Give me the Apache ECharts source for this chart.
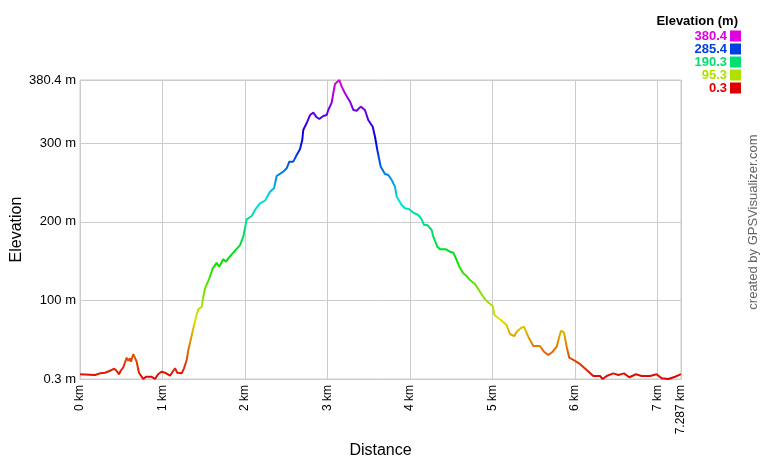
<!DOCTYPE html>
<html>
<head>
<meta charset="utf-8">
<script src="https://cdn.jsdelivr.net/npm/echarts@6/dist/echarts.min.js"></script>
<style>
html,body{margin:0;padding:0;background:#fff;}
#chart{width:760px;height:460px;}
</style>
</head>
<body>
<div id="chart"></div>
<script>
// Distance along track (km)
const distanceKm = [
  0, 0.182, 0.242, 0.303, 0.364, 0.416, 0.445, 0.473, 0.493, 0.525, 0.546, 0.566, 0.586, 0.606, 0.618,
  0.646, 0.667, 0.687, 0.715, 0.748, 0.767, 0.800, 0.869, 0.909, 0.949, 0.991, 1.031, 1.091, 1.152, 1.180,
  1.233, 1.261, 1.294, 1.313, 1.342, 1.374, 1.406, 1.434, 1.476, 1.495, 1.516, 1.568, 1.609, 1.657, 1.689,
  1.737, 1.770, 1.798, 1.859, 1.940, 1.980, 2.021, 2.082, 2.122, 2.182, 2.243, 2.304, 2.352, 2.385, 2.465,
  2.506, 2.538, 2.586, 2.627, 2.667, 2.695, 2.707, 2.756, 2.789, 2.829, 2.870, 2.901, 2.950, 2.991, 3.010,
  3.052, 3.071, 3.092, 3.144, 3.173, 3.213, 3.274, 3.314, 3.355, 3.403, 3.455, 3.495, 3.549, 3.577, 3.605,
  3.646, 3.698, 3.738, 3.779, 3.819, 3.840, 3.900, 3.940, 3.992, 4.041, 4.101, 4.143, 4.171, 4.211, 4.264,
  4.284, 4.332, 4.365, 4.437, 4.486, 4.526, 4.559, 4.599, 4.647, 4.688, 4.728, 4.789, 4.850, 4.910, 4.962,
  5.004, 5.023, 5.092, 5.173, 5.213, 5.266, 5.295, 5.343, 5.383, 5.435, 5.496, 5.577, 5.626, 5.678, 5.731,
  5.780, 5.811, 5.832, 5.868, 5.901, 5.932, 5.981, 6.062, 6.143, 6.224, 6.305, 6.337, 6.386, 6.466, 6.527,
  6.596, 6.660, 6.741, 6.810, 6.911, 6.992, 7.052, 7.134, 7.215, 7.287
];
// Elevation (m)
const elevationM = [
  6.3, 5.4, 7.5, 8.3, 10.8, 13.4, 10.5, 6.3, 10.8, 15.2, 16.8, 27.4, 23.6, 26.6, 22.3,
  32.0, 29.5, 22.3, 8.3, 3.2, 0.3, 3.2, 3.2, 0.3, 6.6, 9.6, 8.3, 4.5, 13.9, 8.3,
  7.5, 13.9, 24.5, 37.2, 50.0, 64.8, 78.7, 88.9, 92.2, 104.9, 115.6, 128.3, 141.0, 148.0, 143.0,
  152.5, 149.4, 153.7, 160.9, 170.6, 181.2, 203.3, 207.5, 215.2, 223.7, 227.0, 238.4, 242.7, 258.4, 263.9,
  268.2, 276.6, 276.6, 285.1, 292.3, 304.1, 316.9, 327.4, 335.9, 338.9, 333.0, 330.8, 334.7, 335.9, 342.3,
  351.6, 363.5, 375.3, 380.4, 372.0, 363.5, 352.8, 342.3, 341.4, 346.5, 342.3, 329.6, 321.0, 308.3, 291.4,
  270.2, 260.9, 259.6, 253.3, 244.8, 232.0, 221.5, 217.3, 216.0, 211.7, 208.8, 203.3, 196.1, 196.1, 189.7,
  181.2, 168.5, 165.2, 165.2, 162.1, 160.9, 153.7, 143.0, 134.7, 131.2, 126.1, 121.1, 111.3, 101.6, 96.5,
  93.1, 81.7, 76.2, 68.9, 57.5, 54.9, 60.4, 64.8, 66.8, 54.1, 42.3, 42.3, 35.0, 30.8, 35.0,
  41.4, 54.1, 61.7, 59.2, 41.4, 27.4, 24.5, 19.4, 11.7, 4.1, 4.1, 0.3, 4.1, 7.5, 5.4,
  7.5, 2.5, 6.3, 4.1, 4.1, 6.3, 1.2, 0.3, 3.2, 6.6
];
const xTickValues = [0, 1, 2, 3, 4, 5, 6, 7, 7.287];
const yTickValues = [0.3, 100, 200, 300, 380.4];
const legendValues = [380.4, 285.4, 190.3, 95.3, 0.3];
const legendColors = ['#e000e0', '#0040e0', '#00e070', '#b0e000', '#e00000'];
const rampColors = ['#e00000', '#e07000', '#e0e000', '#70e000', '#00e000', '#00e070',
  '#00e0e0', '#0070e0', '#0000e0', '#7000e0', '#e000e0'];

const yMin = 0.3, yMax = 380.4, xMax = 7.287;
const FONT = 'Arial, "Liberation Sans", sans-serif';

const seriesData = distanceKm.map((d, i) => [d, elevationM[i]]);

const graphics = [];
graphics.push({
  type: 'text', x: 738, y: 21,
  style: { text: 'Elevation (m)', font: 'bold 13px ' + FONT, fill: '#000',
    textAlign: 'right', textVerticalAlign: 'middle' }
});
legendValues.forEach((v, i) => {
  const cy = 36 + i * 13;
  graphics.push({
    type: 'text', x: 727, y: cy,
    style: { text: String(v), font: 'bold 13px ' + FONT, fill: legendColors[i],
      textAlign: 'right', textVerticalAlign: 'middle' }
  });
  graphics.push({
    type: 'rect', shape: { x: 730, y: cy - 5.5, width: 11, height: 11 },
    style: { fill: legendColors[i] }
  });
});
graphics.push({
  type: 'text', x: 753, y: 222, rotation: Math.PI / 2,
  style: { text: 'created by GPSVisualizer.com', font: '13px ' + FONT, fill: '#666',
    textAlign: 'center', textVerticalAlign: 'middle' }
});

const chart = echarts.init(document.getElementById('chart'), null, { renderer: 'canvas' });
chart.setOption({
  animation: false,
  backgroundColor: '#fff',
  grid: { left: 80, right: 79, top: 80, bottom: 81, show: true, borderColor: '#cccccc', borderWidth: 1,
    containLabel: false, outerBoundsMode: 'none' },
  xAxis: {
    type: 'value', min: 0, max: xMax,
    name: 'Distance', nameLocation: 'middle', nameGap: 64, nameMoveOverlap: false,
    nameTextStyle: { fontFamily: FONT, fontSize: 16, color: '#000' },
    axisLine: { show: true, lineStyle: { color: '#cccccc' } },
    axisTick: { show: false, customValues: xTickValues },
    axisLabel: { customValues: xTickValues, rotate: 90, margin: 6, fontFamily: FONT, fontSize: 12, color: '#000',
      formatter: v => v + ' km' },
    splitLine: { show: true, lineStyle: { color: '#cccccc', width: 1 } }
  },
  yAxis: {
    type: 'value', min: yMin, max: yMax,
    name: 'Elevation', nameLocation: 'middle', nameGap: 55.5, nameMoveOverlap: false,
    nameTextStyle: { fontFamily: FONT, fontSize: 16, color: '#000' },
    axisLine: { show: true, lineStyle: { color: '#cccccc' } },
    axisTick: { show: false, customValues: yTickValues },
    axisLabel: { customValues: yTickValues, margin: 4, fontFamily: FONT, fontSize: 13, color: '#000',
      formatter: v => v + ' m' },
    splitLine: { show: true, lineStyle: { color: '#cccccc', width: 1 } }
  },
  visualMap: {
    show: false, type: 'continuous', dimension: 1, min: yMin, max: yMax, seriesIndex: 0,
    inRange: { color: rampColors }
  },
  series: [{
    type: 'line', data: seriesData, showSymbol: false, symbol: 'none',
    lineStyle: { width: 2 }, sampling: 'none'
  }],
  graphic: graphics
});
</script>
</body>
</html>
